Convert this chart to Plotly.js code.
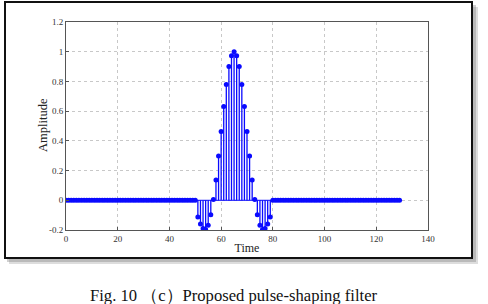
<!DOCTYPE html>
<html><head><meta charset="utf-8">
<script src="https://cdn.plot.ly/plotly-3.0.1.min.js"></script>
<style>html,body{margin:0;padding:0;background:#fff;}#chart{width:488px;height:304px;}</style>
</head><body><div id="chart"></div>
<script>
const timeSamples = [0,1,2,3,4,5,6,7,8,9,10,11,12,13,14,15,16,17,18,19,20,21,22,23,24,25,26,27,28,29,30,31,32,33,34,35,36,37,38,39,40,41,42,43,44,45,46,47,48,49,50,51,52,53,54,55,56,57,58,59,60,61,62,63,64,65,66,67,68,69,70,71,72,73,74,75,76,77,78,79,80,81,82,83,84,85,86,87,88,89,90,91,92,93,94,95,96,97,98,99,100,101,102,103,104,105,106,107,108,109,110,111,112,113,114,115,116,117,118,119,120,121,122,123,124,125,126,127,128,129];
const amplitude = [
0,0,0,0,0,0,0,0,0,0,
0,0,0,0,0,0,0,0,0,0,
0,0,0,0,0,0,0,0,0,0,
0,0,0,0,0,0,0,0,0,0,
0,0,0,0,0,0,0,0,0,0,
0,-0.112,-0.159,-0.190,-0.197,-0.168,-0.098,0.005,0.136,0.298,
0.463,0.631,0.780,0.900,0.973,1.000,0.973,0.900,0.780,0.631,
0.463,0.298,0.136,0.005,-0.098,-0.168,-0.197,-0.190,-0.159,-0.112,
0,0,0,0,0,0,0,0,0,0,
0,0,0,0,0,0,0,0,0,0,
0,0,0,0,0,0,0,0,0,0,
0,0,0,0,0,0,0,0,0,0,
0,0,0,0,0,0,0,0,0,0];
const xTicks = [0,20,40,60,80,100,120,140];
const yTicks = [-0.2,0,0.2,0.4,0.6,0.8,1,1.2];
const xTickText = ['0','20','40','60','80','100','120','140'];
const yTickText = ['-0.2','0','0.2','0.4','0.6','0.8','1','1.2'];

const stemX = [], stemY = [];
timeSamples.forEach((t,i)=>{ stemX.push(t,t,null); stemY.push(0,amplitude[i],null); });

const blue = '#0a0aff';
const traces = [
  {x: stemX, y: stemY, mode:'lines', line:{color:blue, width:1.3}, hoverinfo:'skip', showlegend:false},
  {x: [timeSamples[0], timeSamples[timeSamples.length-1]], y:[0,0], mode:'lines', line:{color:blue,width:1}, showlegend:false},
  {x: timeSamples, y: amplitude, mode:'markers', marker:{color:blue, size:5}, showlegend:false}
];

const serif = 'Liberation Serif, Times New Roman, serif';
const layout = {
  width:488, height:304,
  margin:{l:66, r:60, t:22, b:74},
  paper_bgcolor:'#fff', plot_bgcolor:'#fff',
  xaxis:{range:[0,140], tickvals:xTicks, ticktext:xTickText, showgrid:true, gridcolor:'#c8c8c8', griddash:'dot', gridwidth:1,
    zeroline:false, showline:true, mirror:true, linecolor:'#555', linewidth:1, ticks:'inside', ticklen:3, tickcolor:'#555',
    tickfont:{family:serif, size:9, color:'#333'},
    title:{text:'Time', font:{family:serif, size:12, color:'#222'}, standoff:0}},
  yaxis:{range:[-0.2,1.2], tickvals:yTicks, ticktext:yTickText, showgrid:true, gridcolor:'#c8c8c8', griddash:'dot', gridwidth:1,
    zeroline:false, showline:true, mirror:true, linecolor:'#555', linewidth:1, ticks:'inside', ticklen:3, tickcolor:'#555',
    tickfont:{family:serif, size:9, color:'#333'}},
  shapes:[
    // shadow
    {type:'rect', xref:'paper', yref:'paper', x0:(9-66)/362, x1:(478-66)/362, y0:(230-264)/208, y1:(230-7)/208, line:{width:0}, fillcolor:'rgba(120,120,120,0.25)', layer:'below'},
    {type:'rect', xref:'paper', yref:'paper', x0:(7-66)/362, x1:(476-66)/362, y0:(230-262)/208, y1:(230-5)/208, line:{width:0}, fillcolor:'rgba(120,120,120,0.35)', layer:'below'},
    {type:'rect', xref:'paper', yref:'paper', x0:(5-66)/362, x1:(472-66)/362, y0:(230-258)/208, y1:(230-2)/208, line:{width:2, color:'#111'}, fillcolor:'#fff', layer:'below'}
  ],
  annotations:[
    {text:'Amplitude', textangle:-90, xref:'paper', yref:'paper', x:(43-66)/362, y:(230-125)/208, xanchor:'center', yanchor:'middle', showarrow:false,
     font:{family:serif, size:12.5, color:'#222'}},
    {text:'Fig. 10 （c）Proposed pulse-shaping filter', xref:'paper', yref:'paper', x:(233-66)/362, y:(230-295)/208, xanchor:'center', yanchor:'middle', showarrow:false,
     font:{family:serif, size:16.6, color:'#111'}}
  ]
};
Plotly.newPlot('chart', traces, layout, {staticPlot:true, displayModeBar:false});
</script></body></html>
